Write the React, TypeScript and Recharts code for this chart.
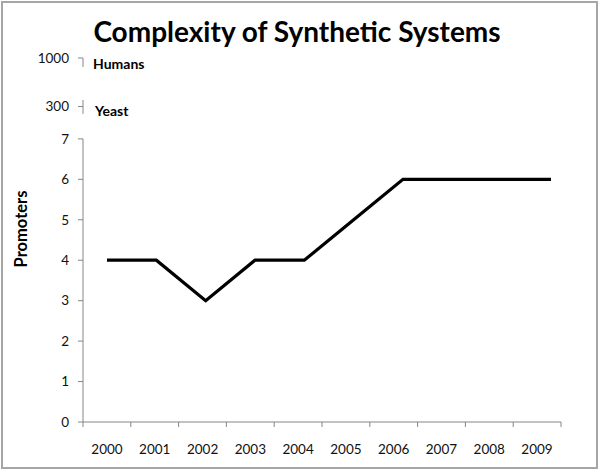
import { ComposedChart, Line, XAxis, YAxis, ReferenceLine } from 'recharts';

const years = ['2000', '2001', '2002', '2003', '2004', '2005', '2006', '2007', '2008', '2009'];
const promoters = [4, 4, 3, 4, 4, 5, 6, 6, 6, 6];

// y ticks: 0..7 are real promoter counts, the two top ticks are the "broken axis" marks
const yTicks = [0, 1, 2, 3, 4, 5, 6, 7, 7.8, 9];
const yTickLabels = ['0', '1', '2', '3', '4', '5', '6', '7', '300', '1000'];
const gridTicks = [0, 1, 2, 3, 4, 5, 6, 7, 8, 9, 10];

const data = years.map((year, i) => ({ year, pos: i, promoters: promoters[i] }));

const font = 'Lato, "Open Sans", sans-serif';
const axisColor = '#868686';

export default function App() {
  return (
    <div style={{ position: 'absolute', left: 0, top: 0, width: 600, height: 471, background: '#fff' }}>
      <div
        style={{
          position: 'absolute',
          left: 1,
          top: 1,
          width: 593,
          height: 464,
          border: '2px solid #a6a6a6',
        }}
      />
      <div
        style={{
          position: 'absolute',
          left: 0,
          top: 14,
          width: 594,
          textAlign: 'center',
          fontFamily: font,
          fontWeight: 700,
          fontSize: 28,
          color: '#000',
        }}
      >
        Complexity of Synthetic Systems
      </div>
      <div style={{ position: 'absolute', left: 0, top: 0 }}>
        <ComposedChart width={600} height={471} data={data} margin={{ top: 58, right: 39, bottom: 19, left: 23 }}>
          <XAxis
            xAxisId="grid"
            dataKey="pos"
            type="number"
            domain={[0, 10]}
            ticks={gridTicks}
            interval={0}
            allowDataOverflow
            height={1}
            tickSize={5}
            tickFormatter={() => ''}
            stroke={axisColor}
          />
          <XAxis
            xAxisId="labels"
            dataKey="year"
            height={29}
            padding={{ left: 24, right: 24 }}
            axisLine={false}
            tickLine={false}
            tickMargin={15}
            interval={0}
            tick={{ fill: '#111', fontSize: 13.5, fontFamily: font }}
          />
          <XAxis xAxisId="line" dataKey="year" hide padding={{ left: 24, right: 10 }} />
          <YAxis
            type="number"
            domain={[0, 9]}
            ticks={yTicks}
            interval={0}
            width={60}
            axisLine={false}
            tickSize={5}
            tickMargin={9}
            stroke={axisColor}
            tickFormatter={(v: number) => yTickLabels[yTicks.indexOf(v)]}
            tick={{ fill: '#111', fontSize: 13.5, fontFamily: font }}
            label={() => (
              <text
                x={23}
                y={229}
                transform="rotate(-90 23 229)"
                textAnchor="middle"
                dominantBaseline="middle"
                style={{ fontFamily: font, fontWeight: 700, fontSize: 16.5, fill: '#000' }}
              >
                Promoters
              </text>
            )}
          />
          {/* broken y axis line */}
          <ReferenceLine xAxisId="grid" segment={[{ x: 0, y: 0 }, { x: 0, y: 7 }]} stroke={axisColor} />
          <ReferenceLine xAxisId="grid" segment={[{ x: 0, y: 7.62 }, { x: 0, y: 7.96 }]} stroke={axisColor} />
          <ReferenceLine xAxisId="grid" segment={[{ x: 0, y: 8.78 }, { x: 0, y: 9 }]} stroke={axisColor} />
          <ReferenceLine
            xAxisId="grid"
            y={9}
            stroke="none"
            label={{ value: 'Humans', position: 'insideLeft', offset: 10, dy: 6, fill: '#000', fontSize: 14, fontWeight: 700, fontFamily: font }}
          />
          <ReferenceLine
            xAxisId="grid"
            y={7.8}
            stroke="none"
            label={{ value: 'Yeast', position: 'insideLeft', offset: 12, dy: 4, fill: '#000', fontSize: 14, fontWeight: 700, fontFamily: font }}
          />
          <Line
            xAxisId="line"
            dataKey="promoters"
            type="linear"
            stroke="#000"
            strokeWidth={3.2}
            dot={false}
            isAnimationActive={false}
          />
        </ComposedChart>
      </div>
    </div>
  );
}
